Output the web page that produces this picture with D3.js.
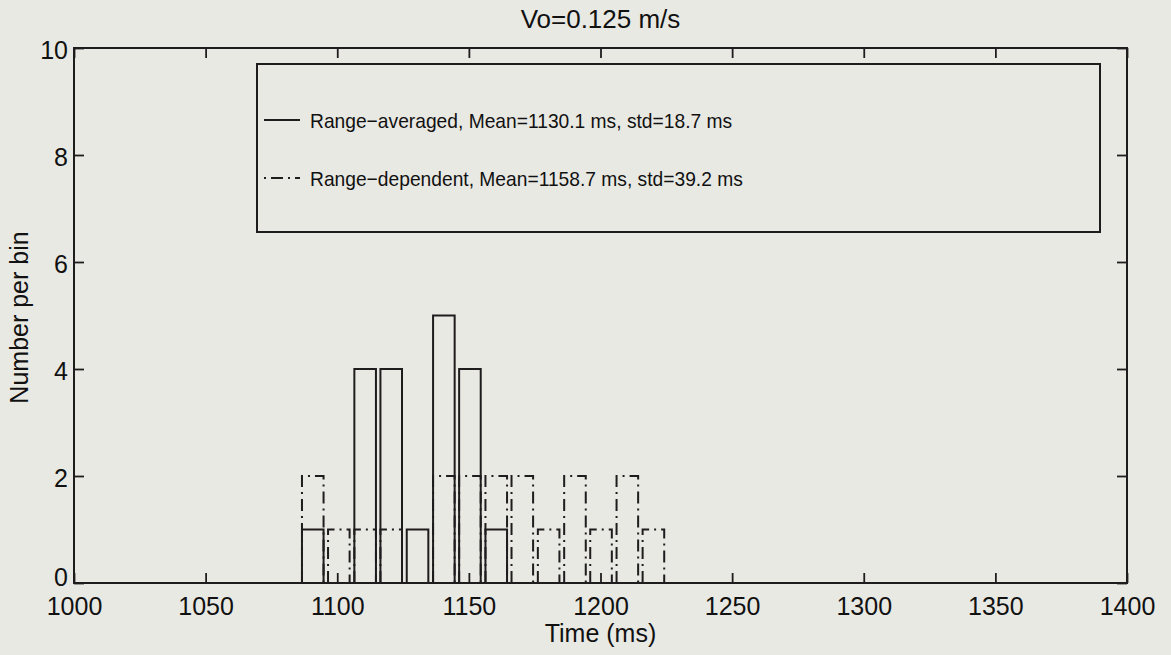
<!DOCTYPE html>
<html>
<head>
<meta charset="utf-8">
<script src="https://cdn.jsdelivr.net/npm/d3@7"></script>
<style>
  html, body { margin: 0; padding: 0; background: #e9e9e4; }
  svg { display: block; font-family: "Liberation Sans", Arial, sans-serif; }
</style>
</head>
<body>
<svg id="chart" width="1171" height="655"></svg>
<script>
// histogram bin centres (ms)
const binCenters = [1090.7, 1100.6, 1110.6, 1120.5, 1130.5, 1140.5, 1150.4,
  1160.4, 1170.3, 1180.3, 1190.3, 1200.2, 1210.2, 1220.1];
// counts per bin
const rangeAveraged = [1, 0, 4, 4, 1, 5, 4, 1, 0, 0, 0, 0, 0, 0];
const rangeDependent = [2, 1, 1, 1, 0, 2, 2, 2, 2, 1, 2, 1, 2, 1];
const barWidthMs = 8.2;

const xTicks = [1000, 1050, 1100, 1150, 1200, 1250, 1300, 1350, 1400];
const yTicks = [0, 2, 4, 6, 8, 10];

const legendLabels = [
  "Range\u2212averaged, Mean=1130.1 ms, std=18.7 ms",
  "Range\u2212dependent, Mean=1158.7 ms, std=39.2 ms",
];

const ink = "#1e1c1d";
const dashDot = "12,5,2,5";

const svg = d3.select("#chart");
const margin = { top: 48, right: 44, bottom: 72, left: 74 };
const width = 1171 - margin.left - margin.right;
const height = 655 - margin.top - margin.bottom;

const x = d3.scaleLinear().domain([1000, 1400]).range([0, width]);
const y = d3.scaleLinear().domain([0, 10]).range([height, 0]);

const g = svg.append("g").attr("transform", `translate(${margin.left},${margin.top})`);

// bars: outline only, like matlab bar() on a printed page
const drawBars = (counts, dash, cls) => {
  const data = binCenters.map((c, i) => ({ c, n: counts[i] })).filter((d) => d.n > 0);
  g.append("g")
    .selectAll("path." + cls)
    .data(data)
    .enter()
    .append("path")
    .attr("class", cls)
    .attr("d", (d) => {
      const x0 = x(d.c - barWidthMs / 2);
      const x1 = x(d.c + barWidthMs / 2);
      return `M${x0},${y(0)}V${y(d.n)}H${x1}V${y(0)}`;
    })
    .style("fill", "none")
    .style("stroke", ink)
    .style("stroke-width", 2)
    .style("stroke-dasharray", dash);
};

drawBars(rangeAveraged, null, "avg");
drawBars(rangeDependent, dashDot, "dep");

// axes, ticks pointing inward on all four sides
const styleAxis = (sel) => {
  sel.select(".domain").remove();
  sel.selectAll(".tick line").style("stroke", ink).style("stroke-width", 1.8);
  sel.selectAll(".tick text").style("fill", "#111").style("font-size", "25px");
};

g.append("g")
  .attr("transform", `translate(0,${height})`)
  .call(d3.axisBottom(x).tickValues(xTicks).tickSizeInner(-10).tickSizeOuter(0).tickPadding(14).tickFormat(d3.format("d")))
  .call(styleAxis);

g.append("g")
  .call(d3.axisTop(x).tickValues(xTicks).tickSizeInner(-10).tickSizeOuter(0).tickFormat(""))
  .call(styleAxis);

g.append("g")
  .call(d3.axisLeft(y).tickValues(yTicks).tickSizeInner(-10).tickSizeOuter(0).tickPadding(6).tickFormat(d3.format("d")))
  .call(styleAxis)
  .call((a) => a.selectAll(".tick text").attr("dy", (d) => (d === 0 ? "0.1em" : "0.4em")));

g.append("g")
  .attr("transform", `translate(${width},0)`)
  .call(d3.axisRight(y).tickValues(yTicks).tickSizeInner(-10).tickSizeOuter(0).tickFormat(""))
  .call(styleAxis);

svg.selectAll(".tick text").attr("font-family", null);

g.append("rect")
  .attr("width", width)
  .attr("height", height)
  .style("fill", "none")
  .style("stroke", ink)
  .style("stroke-width", 2);

// legend box
const legend = g.append("g").attr("transform", `translate(${257 - margin.left},${64 - margin.top})`);
legend.append("rect")
  .attr("width", 843)
  .attr("height", 168)
  .style("fill", "none")
  .style("stroke", ink)
  .style("stroke-width", 2);

const rows = legend.selectAll("g.row")
  .data(legendLabels)
  .enter()
  .append("g")
  .attr("class", "row")
  .attr("transform", (d, i) => `translate(0,${56 + i * 58})`);

rows.append("line")
  .attr("x1", 7)
  .attr("x2", 43)
  .style("stroke", ink)
  .style("stroke-width", 1.8)
  .style("stroke-dasharray", (d, i) => (i === 0 ? null : "2,5,12,5"));

// the printed legend font is a little narrow: squeeze it to keep the width
rows.append("text")
  .attr("x", 53)
  .attr("dy", "0.36em")
  .style("font-size", "21px")
  .style("fill", "#111")
  .text((d) => d)
  .each(function () {
    const w = this.getComputedTextLength();
    d3.select(this).attr("textLength", w * 0.915).attr("lengthAdjust", "spacingAndGlyphs");
  });

// title and axis labels
svg.append("text")
  .attr("x", margin.left + width / 2)
  .attr("y", 28)
  .attr("text-anchor", "middle")
  .style("font-size", "26px")
  .style("fill", "#111")
  .text("Vo=0.125 m/s");

svg.append("text")
  .attr("x", margin.left + width / 2)
  .attr("y", 642)
  .attr("text-anchor", "middle")
  .style("font-size", "25px")
  .style("fill", "#111")
  .text("Time (ms)");

svg.append("text")
  .attr("transform", `translate(28,${margin.top + height / 2 + 2}) rotate(-90)`)
  .attr("text-anchor", "middle")
  .style("font-size", "25px")
  .style("fill", "#111")
  .text("Number per bin");
</script>
</body>
</html>
